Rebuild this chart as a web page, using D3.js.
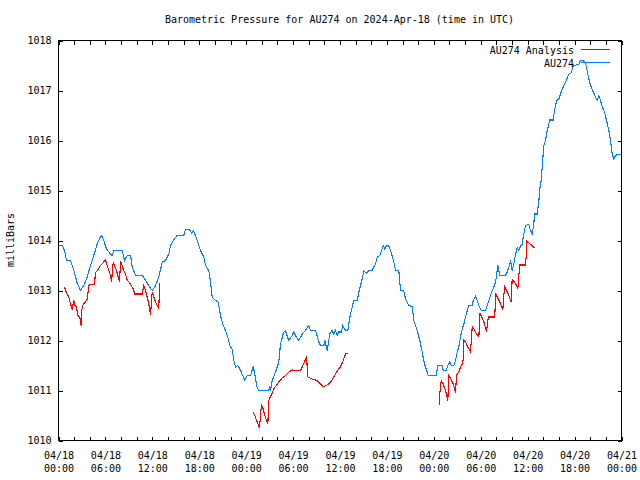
<!DOCTYPE html>
<html><head><meta charset="utf-8">
<script src="https://cdn.jsdelivr.net/npm/d3@7"></script>
<style>body{margin:0;background:#fff}svg{display:block}</style>
</head><body><svg id="c" width="640" height="480"></svg>
<script>
const titleText = "Barometric Pressure for AU274 on 2024-Apr-18 (time in UTC)";
const yLabelText = "milliBars";
const seriesNames = ["AU274 Analysis", "AU274"];
const seriesColors = ["#ff0000", "#0080ff"];
const startUTC = Date.UTC(2024, 3, 18, 0, 0);
const yTickValues = [1010, 1011, 1012, 1013, 1014, 1015, 1016, 1017, 1018];
const xTickHours = [0,2,4,6,8,10,12,14,16,18,20,22,24,26,28,30,32,34,36,38,40,42,44,46,48,50,52,54,56,58,60,62,64,66,68,70,72];
const xLabelHours = [0,6,12,18,24,30,36,42,48,54,60,66,72];

// AU274 observed (hours since 2024-04-18 00:00 UTC, mbar)
const blueHours = [
0,0.47,0.77,1.02,1.53,1.96,2.39,2.81,3.24,3.67,
4.09,4.51,4.95,5.37,5.5,5.79,6.14,6.65,6.87,7.07,
8.15,8.44,8.79,9.21,9.43,9.85,10.7,11.13,11.55,11.98,
12.41,12.83,13.26,13.68,14.11,14.32,14.75,15.18,16.02,16.24,
16.75,17.0,17.27,17.74,18.16,18.58,18.8,19.22,19.44,19.66,
20.08,20.42,20.72,21.06,21.36,21.65,21.91,22.21,22.42,22.64,
22.93,23.28,23.83,24.13,24.56,24.9,25.07,25.41,25.62,26.9,
27.02,27.11,27.33,27.75,28.17,28.39,28.81,29.03,29.45,29.89,
30.09,30.3,30.73,31.17,31.59,32.01,32.23,32.87,33.29,33.51,
33.93,34.06,34.36,34.7,35.0,35.21,35.43,35.64,35.85,36.16,
36.36,36.7,37.0,37.26,37.56,37.77,38.2,38.41,38.62,38.84,
39.04,39.39,39.68,40.12,40.32,40.54,40.76,41.09,41.53,41.73,
41.95,42.24,42.46,42.88,43.1,43.52,43.74,44.16,44.38,44.8,
45.24,45.44,45.87,46.21,46.51,46.81,47.15,47.28,48.3,48.51,
49.07,49.2,49.58,49.79,50.04,50.22,50.55,50.77,50.99,51.19,
51.41,51.63,51.83,52.05,52.27,52.47,52.91,53.04,53.33,53.55,
53.76,54.06,54.61,54.83,55.03,55.25,55.47,55.67,55.89,56.02,
56.18,56.44,57.17,57.38,57.68,57.81,58.02,58.23,58.45,58.66,
58.87,59.08,59.3,59.43,59.72,60.15,60.36,60.58,60.79,60.87,
61.22,61.42,61.55,61.73,61.86,62.06,62.28,62.5,62.83,63.26,
63.43,63.69,63.98,64.29,64.63,64.93,65.27,65.57,65.83,66.54,
66.76,67.1,67.4,67.61,67.82,68.04,68.38,68.68,68.9,69.1,
69.32,69.54,69.83,70.09,70.38,70.6,70.81,71.02,71.24,71.54,
71.88];
const blueValues = [
1013.9,1013.9,1013.8,1013.6,1013.6,1013.4,1013.15,1013.0,1013.1,1013.27,
1013.5,1013.7,1013.93,1014.08,1014.1,1014.0,1013.83,1013.73,1013.7,1013.8,
1013.8,1013.6,1013.7,1013.7,1013.47,1013.3,1013.3,1013.2,1013.1,1013.0,
1013.1,1013.27,1013.57,1013.6,1013.73,1013.9,1014.02,1014.1,1014.1,1014.22,
1014.22,1014.15,1014.2,1014.0,1013.8,1013.67,1013.5,1013.4,1013.17,1012.87,
1012.8,1012.77,1012.5,1012.3,1012.2,1012.07,1011.9,1011.83,1011.6,1011.47,
1011.5,1011.4,1011.2,1011.3,1011.3,1011.48,1011.35,1011.05,1011.0,1011.0,
1011.09,1011.0,1011.2,1011.37,1011.57,1011.93,1012.17,1012.19,1012.0,1012.1,
1012.17,1012.1,1012.0,1012.13,1012.2,1012.3,1012.2,1012.2,1011.97,1011.9,
1011.9,1012.0,1011.8,1012.13,1012.2,1012.13,1012.2,1012.1,1012.17,1012.17,
1012.3,1012.2,1012.2,1012.47,1012.67,1012.8,1012.8,1012.97,1013.1,1013.23,
1013.39,1013.35,1013.39,1013.4,1013.47,1013.53,1013.67,1013.7,1013.9,1013.83,
1013.9,1013.89,1013.8,1013.57,1013.4,1013.4,1013.0,1012.99,1012.83,1012.7,
1012.68,1012.4,1012.2,1012.0,1011.77,1011.53,1011.37,1011.3,1011.3,1011.5,
1011.5,1011.4,1011.4,1011.5,1011.57,1011.5,1011.5,1011.6,1011.77,1011.87,
1012.07,1012.23,1012.32,1012.47,1012.6,1012.7,1012.7,1012.8,1012.88,1012.8,
1012.7,1012.6,1012.6,1012.7,1012.8,1012.9,1013.0,1013.07,1013.17,1013.3,
1013.5,1013.3,1013.3,1013.37,1013.5,1013.6,1013.4,1013.53,1013.73,1013.85,
1013.8,1013.88,1013.93,1014.07,1014.3,1014.32,1014.2,1014.13,1014.33,1014.53,
1014.53,1014.77,1015.03,1015.2,1015.47,1015.9,1016.0,1016.2,1016.41,1016.41,
1016.6,1016.79,1016.83,1016.97,1017.1,1017.2,1017.33,1017.35,1017.5,1017.52,
1017.6,1017.6,1017.55,1017.4,1017.23,1017.1,1016.97,1016.87,1016.81,1016.9,
1016.8,1016.67,1016.57,1016.4,1016.2,1016.0,1015.73,1015.63,1015.7,1015.72,
1015.72];

// AU274 Analysis (null = gap)
const redHours = [
0.77,1.02,1.32,1.53,1.75,1.96,2.08,2.3,2.47,2.72,
2.9,2.98,3.07,3.45,3.67,3.88,4.09,4.6,4.73,4.95,
5.37,5.79,6.01,6.23,6.43,6.65,6.78,7.0,7.16,7.42,
7.58,7.8,7.93,8.06,8.27,8.57,8.79,8.99,9.3,9.56,
9.76,10.7,10.91,11.13,11.34,11.55,11.77,11.98,12.19,12.41,
12.62,12.83,12.92,
18.0,
24.85,25.1,25.41,25.71,25.83,25.96,26.18,26.38,26.6,26.77,
26.9,27.11,27.33,27.53,27.75,28.17,28.61,29.03,29.45,29.89,
30.3,30.95,31.17,31.46,31.72,31.89,32.45,33.08,33.51,33.85,
34.36,34.79,35.21,35.64,36.06,36.41,36.7,37.0,
42.0,
48.76,48.77,48.94,49.2,49.49,49.79,49.91,50.13,50.48,50.77,
50.9,51.19,51.41,51.63,51.83,51.85,52.05,52.34,52.69,52.91,
53.12,53.46,53.76,53.89,54.2,54.49,54.74,54.96,55.8,55.89,
56.1,56.44,56.82,57.04,57.3,57.59,57.89,58.02,58.32,58.57,
58.74,58.92,59.0,59.72,59.85,59.86,60.15,60.58,60.9];
const redValues = [
1013.07,1012.95,1012.87,1012.73,1012.63,1012.8,1012.7,1012.67,1012.5,1012.47,
1012.3,1012.6,1012.7,1012.77,1012.83,1013.1,1013.12,1013.13,1013.35,1013.4,
1013.5,1013.57,1013.61,1013.5,1013.4,1013.3,1013.17,1013.57,1013.5,1013.4,
1013.3,1013.17,1013.57,1013.55,1013.43,1013.33,1013.2,1013.18,1013.1,1013.03,
1012.93,1012.93,1013.1,1013.0,1012.87,1012.73,1012.52,1012.97,1012.87,1012.77,
1012.7,1012.65,1013.15,
null,
1010.58,1010.5,1010.37,1010.25,1010.5,1010.72,1010.63,1010.5,1010.4,1010.33,
1010.8,1010.88,1010.95,1011.03,1011.08,1011.17,1011.25,1011.3,1011.37,1011.41,
1011.4,1011.4,1011.47,1011.57,1011.68,1011.27,1011.23,1011.2,1011.13,1011.07,
1011.11,1011.17,1011.27,1011.39,1011.47,1011.6,1011.73,1011.75,
null,
1010.7,1010.95,1011.2,1011.13,1011.0,1010.8,1011.3,1011.25,1011.13,1010.95,
1011.3,1011.37,1011.47,1011.53,1011.67,1012.0,1011.97,1011.87,1011.77,1012.27,
1012.23,1012.13,1012.07,1012.55,1012.45,1012.33,1012.17,1012.47,1012.47,1012.95,
1012.87,1012.77,1012.61,1013.08,1013.0,1012.9,1012.77,1013.23,1013.17,1013.1,
1013.03,1013.4,1013.51,1013.51,1013.75,1013.99,1013.95,1013.9,1013.85];

const toDate = h => new Date(startUTC + h * 3600e3);
const blueData = blueHours.map((h, i) => ({t: toDate(h), v: blueValues[i]}));
const redData = redHours.map((h, i) => ({t: toDate(h), v: redValues[i]}));

const svg = d3.select("#c");
const FONT = "'DejaVu Sans Mono', 'Liberation Mono', monospace";
const L = 58.5, R = 621.5, T = 40.5, B = 440.5;

const x = d3.scaleUtc().domain([toDate(0), toDate(72)]).range([L, R]);
const y = d3.scaleLinear().domain([1010, 1018]).range([B, T]);

svg.append("rect").attr("width", 640).attr("height", 480).attr("fill", "#fff");

const fmt1 = d3.utcFormat("%m/%d"), fmt2 = d3.utcFormat("%H:%M");
const labelSet = new Set(xLabelHours.map(h => +toDate(h)));
const xTicks = xTickHours.map(toDate);

// bottom axis
const gB = svg.append("g").attr("transform", `translate(0,${B})`)
  .call(d3.axisBottom(x).tickValues(xTicks).tickSize(-4).tickSizeOuter(0)
    .tickFormat(d => labelSet.has(+d) ? "x" : ""));
gB.selectAll(".tick text").each(function(d) {
  const t = d3.select(this);
  const show = labelSet.has(+d);
  t.text(null).attr("y", null).attr("dy", null);
  if (show) {
    t.append("tspan").attr("x", 0).attr("y", 18).text(fmt1(d));
    t.append("tspan").attr("x", 0).attr("y", 31).text(fmt2(d));
  }
});
// top axis
svg.append("g").attr("transform", `translate(0,${T})`)
  .call(d3.axisTop(x).tickValues(xTicks).tickSize(-4).tickSizeOuter(0).tickFormat(""));
// left axis
svg.append("g").attr("transform", `translate(${L},0)`)
  .call(d3.axisLeft(y).tickValues(yTickValues).tickSize(-4).tickSizeOuter(0).tickPadding(7).tickFormat(d3.format("d")));
// right axis
svg.append("g").attr("transform", `translate(${R},0)`)
  .call(d3.axisRight(y).tickValues(yTickValues).tickSize(-4).tickSizeOuter(0).tickFormat(""));

svg.selectAll(".domain").remove();
svg.selectAll(".tick line").attr("stroke", "#000").attr("shape-rendering", "crispEdges");
svg.selectAll(".tick text").attr("font-family", FONT).attr("font-size", 10).attr("fill", "#000");

// data lines
const line = d3.line().defined(d => d.v != null).x(d => x(d.t)).y(d => y(d.v));
svg.append("path").datum(redData).attr("d", line)
  .attr("fill", "none").attr("stroke", seriesColors[0]).attr("stroke-width", 1.1)
  .attr("shape-rendering", "crispEdges");
svg.append("path").datum(blueData).attr("d", line)
  .attr("fill", "none").attr("stroke", seriesColors[1]).attr("stroke-width", 1.1)
  .attr("shape-rendering", "crispEdges");

// border
svg.append("rect").attr("x", L).attr("y", T).attr("width", R - L).attr("height", B - T)
  .attr("fill", "none").attr("stroke", "#000").attr("shape-rendering", "crispEdges");

// title
svg.append("text").attr("x", 339.5).attr("y", 23).attr("text-anchor", "middle")
  .attr("font-family", FONT).attr("font-size", 10).text(titleText);
// y label
svg.append("text").attr("transform", "translate(14,240) rotate(-90)").attr("text-anchor", "middle")
  .attr("font-family", FONT).attr("font-size", 10).text(yLabelText);

// legend
seriesNames.forEach((name, i) => {
  const ly = 49.5 + i * 13;
  svg.append("text").attr("x", 574).attr("y", ly + 4).attr("text-anchor", "end")
    .attr("font-family", FONT).attr("font-size", 10).text(name);
  svg.append("line").attr("x1", 581).attr("x2", 610).attr("y1", ly).attr("y2", ly)
    .attr("stroke", seriesColors[i]).attr("stroke-width", 1)
    .attr("shape-rendering", "crispEdges");
});
</script>
</body></html>
